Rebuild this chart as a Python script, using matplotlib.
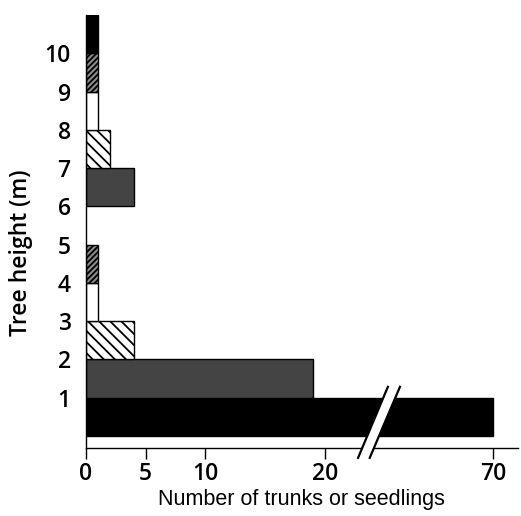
import numpy as np
import matplotlib
matplotlib.use("Agg")
import matplotlib.pyplot as plt
from matplotlib.patches import Polygon

# height classes (m), lower edge of each 1 m class
heights = [0, 1, 2, 3, 4, 5, 6, 7, 8, 9, 10]
counts = [70, 19, 4, 1, 1, 0, 4, 2, 1, 1, 1]
ytick_vals = [1, 2, 3, 4, 5, 6, 7, 8, 9, 10]
xtick_vals = [0, 5, 10, 20, 70]

# the fill patterns cycle every 5 classes
faces = ['black', '#444444', 'white', 'white', '#8a8a8a']
hatches = [None, None, '\\\\\\', None, '//////']

plt.rcParams['hatch.linewidth'] = 1.3


def fwd(v):
    v = np.asarray(v, dtype=float)
    return np.where(v <= 20, v, 20 + (v - 20) * 0.282)


def inv(u):
    u = np.asarray(u, dtype=float)
    return np.where(u <= 20, u, 20 + (u - 20) / 0.282)


fig = plt.figure(figsize=(5.21, 5.16), dpi=100)
ax = fig.add_axes([0.165, 0.132, 0.829, 0.839])
ax.set_xscale('function', functions=(fwd, inv))

for i, (h, c) in enumerate(zip(heights, counts)):
    if c == 0:
        continue
    ax.barh(h, c, height=1, align='edge', color=faces[i % 5],
            hatch=hatches[i % 5], edgecolor='black', linewidth=1.0)

ax.set_xlim(0, 77.3)
ax.set_ylim(-0.31, 11)

ax.set_xticks(xtick_vals)
ax.set_xticklabels([str(v) for v in xtick_vals], fontsize=16.5,
                   fontweight='semibold', family='Open Sans')
ax.set_yticks(ytick_vals)
ax.set_yticklabels([str(v) for v in ytick_vals], fontsize=16.5,
                   fontweight='semibold', family='Open Sans')
ax.tick_params(axis='y', length=0, pad=11)
ax.tick_params(axis='x', direction='out', length=8, width=1, pad=2)
ax.xaxis.set_minor_locator(plt.NullLocator())

for s in ['top', 'right']:
    ax.spines[s].set_visible(False)
ax.spines['bottom'].set_linewidth(1.0)
ax.spines['left'].set_linewidth(1.0)

ax.set_ylabel('Tree height (m)', fontsize=16.5, fontweight='semibold',
              family='Open Sans')
ax.yaxis.set_label_coords(-0.15, 0.45)
ax.set_xlabel('Number of trunks or seedlings', fontsize=15.5,
              family='Liberation Sans')
ax.xaxis.set_label_coords(0.5, -0.12)
ax.xaxis.label.set_va('center')
ax.yaxis.label.set_va('center')

# axis break marks
gap = Polygon([(0.630, -0.023), (0.699, 0.141), (0.727, 0.141), (0.657, -0.023)],
              closed=True, transform=ax.transAxes, facecolor='white',
              edgecolor='none', clip_on=False, zorder=5)
ax.add_patch(gap)
ax.plot([0.630, 0.699], [-0.023, 0.141], color='black', lw=1.6,
        transform=ax.transAxes, clip_on=False, zorder=6)
ax.plot([0.657, 0.727], [-0.023, 0.141], color='black', lw=1.6,
        transform=ax.transAxes, clip_on=False, zorder=6)

fig.savefig('out.png', dpi=100)
